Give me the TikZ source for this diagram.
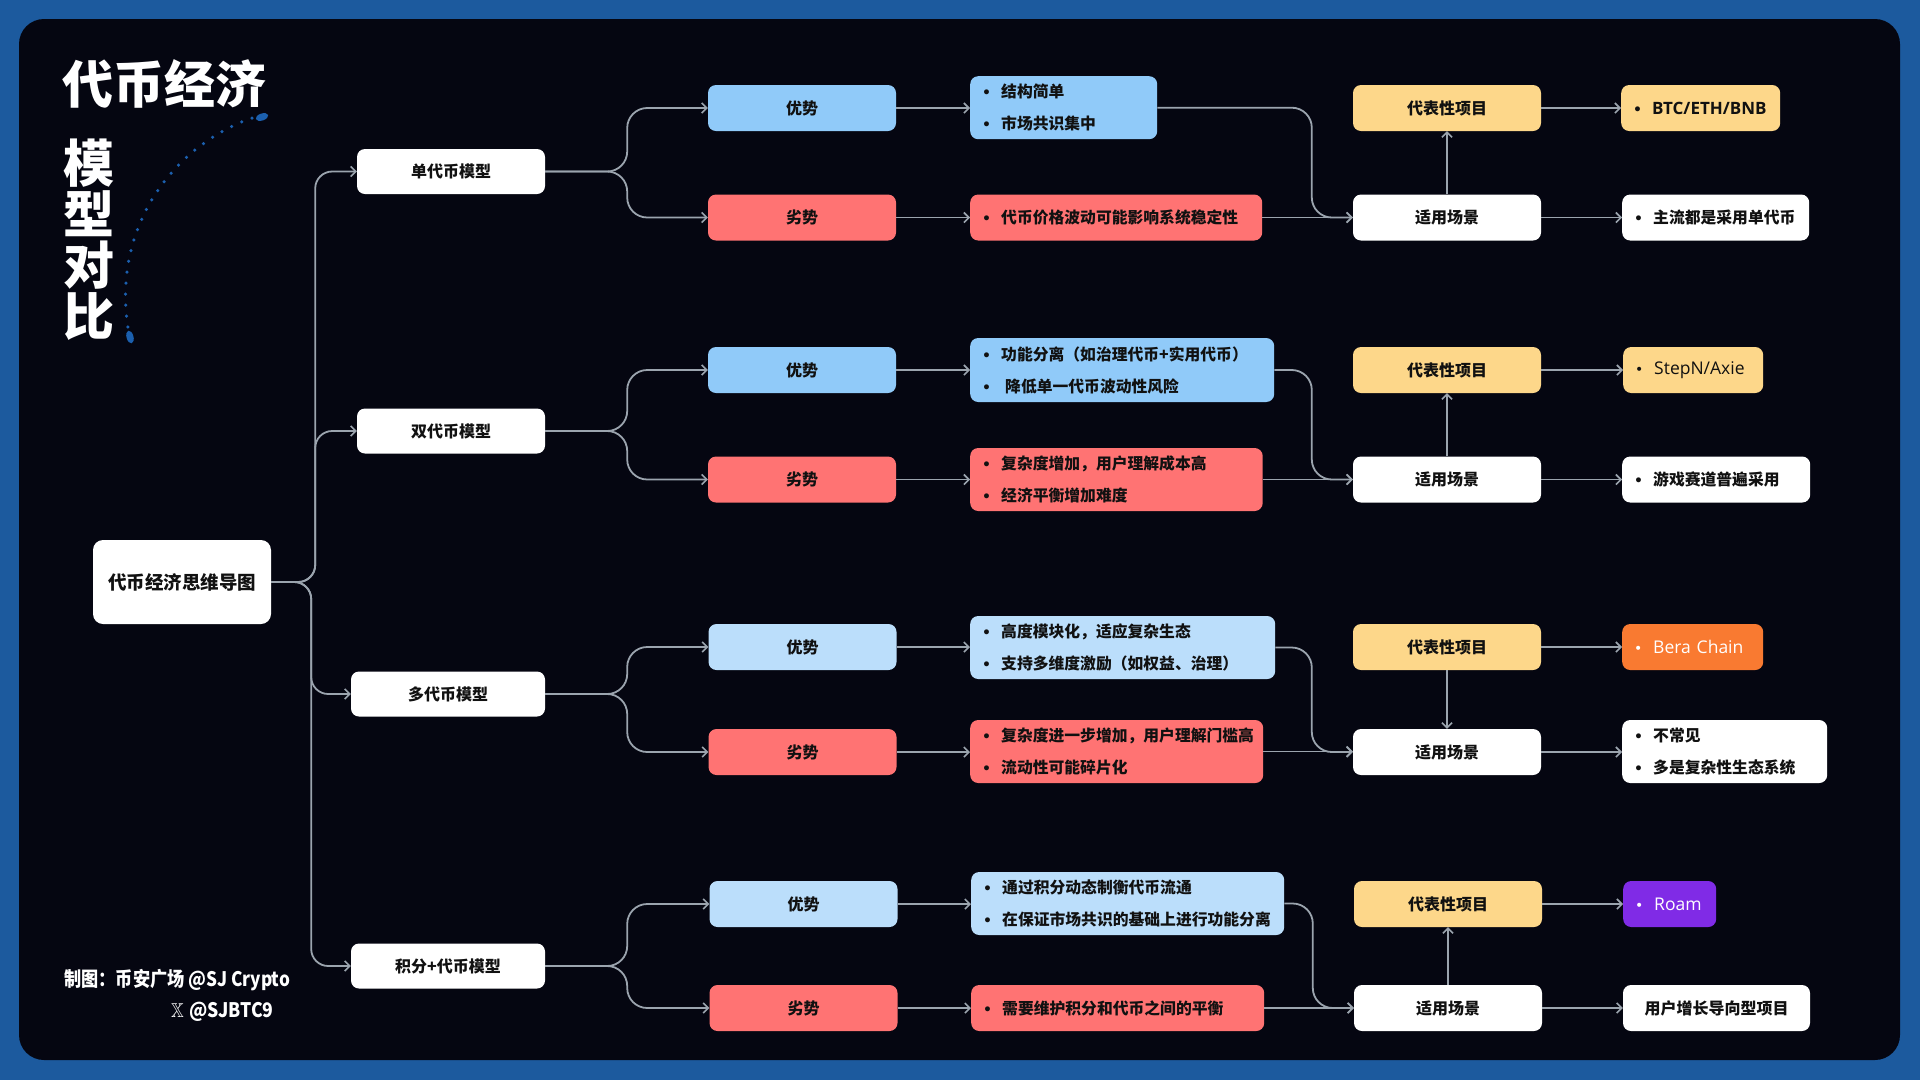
\documentclass[tikz,border=0pt]{standalone}
\usepackage{fontspec}
\usepackage{amssymb}
\setmainfont{Noto Sans CJK SC}
\newfontfamily\dvs{DejaVu Sans}
\newfontfamily\lat{Open Sans}
\usetikzlibrary{arrows.meta,calc}
\definecolor{outerblue}{HTML}{1C5A9E}
\definecolor{panel}{HTML}{050611}
\definecolor{bluea}{HTML}{90CAF9}
\definecolor{blueb}{HTML}{BBDEFB}
\definecolor{redbox}{HTML}{FF7373}
\definecolor{yel}{HTML}{FDD78A}
\definecolor{orng}{HTML}{F97A31}
\definecolor{purp}{HTML}{802BE6}
\definecolor{lnk}{HTML}{9BA4AE}
\definecolor{dotblue}{HTML}{1B5FAE}
\definecolor{ink}{HTML}{111111}
\newcommand{\bt}{\makebox[18pt][l]{\hspace{-1pt}{\dvs\fontsize{14}{14}\selectfont •}}}
\tikzset{
  bx/.style={rounded corners=8pt, inner sep=0pt, minimum height=46pt, font=\bfseries\fontsize{16}{20}\selectfont, text=ink},
  wbox/.style={bx, fill=white},
  det/.style={bx, anchor=west, inner xsep=13pt, inner ysep=0pt, align=left, font=\bfseries\fontsize{15.8}{32}\selectfont},
  latfont/.style={font=\lat\fontsize{17.5}{20}\selectfont},
  conn/.style={draw=lnk, line width=1.8pt, rounded corners=20pt, -{Straight Barb[length=5pt,width=10pt,line width=1.6pt]}},
  rootconn/.style={conn, rounded corners=17pt},
}
\begin{document}
\begin{tikzpicture}[x=1pt,y=-1pt]
\useasboundingbox (0,0) rectangle (1920,1080);
\fill[outerblue] (0,0) rectangle (1920,1080);
\fill[panel, rounded corners=25pt] (19,19) rectangle (1900,1060);

% title
\node[font=\bfseries\fontsize{51}{51}\selectfont, text=white, inner sep=0pt] (t1) at (164.5,84) {代币经济};
\node[font=\bfseries\fontsize{51}{51}\selectfont, text=white, inner sep=0pt, align=center] (t2) at (88.5,240) {模\\型\\对\\比};
\draw[dotblue, line width=3.5pt, line cap=round, dash pattern=on 0pt off 11pt] (252,118) .. controls (175,145) and (112,225) .. (128,328);
\fill[dotblue, rotate around={18:(262,117)}] (262,117) ellipse [x radius=6.5, y radius=3.5];
\fill[dotblue, rotate around={-75:(130,337)}] (130,337) ellipse [x radius=6.5, y radius=3.5];

% footer
\node[anchor=west, text=white, font=\bfseries\fontsize{20}{24}\selectfont, inner sep=0pt] (f1) at (64,980) {\scalebox{0.86}[1]{制图：币安广场 @SJ Crypto}};
\node[anchor=west, text=white, font=\bfseries\fontsize{20}{24}\selectfont, inner sep=0pt] (f2) at (171,1012) {\scalebox{0.88}[1]{$\mathbb{X}$\hspace{6pt}@SJBTC9}};

% root
\node[wbox, minimum width=178pt, minimum height=84pt, rounded corners=10pt, font=\bfseries\fontsize{18.5}{22}\selectfont] (root) at (182,582) {代币经济思维导图};

% level 1
\node[wbox, minimum width=188pt, minimum height=45pt] (m1) at (451,171.5) {单代币模型};
\node[wbox, minimum width=188pt, minimum height=45pt] (m2) at (451,431) {双代币模型};
\node[wbox, minimum width=194pt, minimum height=45pt] (m3) at (448,694) {多代币模型};
\node[wbox, minimum width=194pt, minimum height=45pt] (m4) at (448,966) {积分+代币模型};

% level 2
\node[bx, fill=bluea, minimum width=188pt] (g1) at (802,108) {优势};
\node[bx, fill=redbox, minimum width=188pt] (b1) at (802,217.5) {劣势};
\node[bx, fill=bluea, minimum width=188pt] (g2) at (802,370) {优势};
\node[bx, fill=redbox, minimum width=188pt] (b2) at (802,479.5) {劣势};
\node[bx, fill=blueb, minimum width=188pt] (g3) at (802.5,647) {优势};
\node[bx, fill=redbox, minimum width=188pt] (b3) at (802.5,752) {劣势};
\node[bx, fill=blueb, minimum width=188pt] (g4) at (803.5,904) {优势};
\node[bx, fill=redbox, minimum width=188pt] (b4) at (803.5,1008) {劣势};

% details
\node[det, fill=bluea, text width=161pt, minimum height=63pt] (d1a) at (970,107.7) {\bt 结构简单\\\bt 市场共识集中};
\node[det, fill=redbox, text width=266pt, minimum height=46pt] (d1b) at (970,217.5) {\bt 代币价格波动可能影响系统稳定性};
\node[det, fill=bluea, text width=278pt, minimum height=64pt] (d2a) at (970,370) {\bt 功能分离（如治理代币+实用代币）\\\bt\hspace{4pt}降低单一代币波动性风险};
\node[det, fill=redbox, text width=266.5pt, minimum height=63pt] (d2b) at (970,479.5) {\bt 复杂度增加，用户理解成本高\\\bt 经济平衡增加难度};
\node[det, fill=blueb, text width=279pt, minimum height=63pt] (d3a) at (970,647.5) {\bt 高度模块化，适应复杂生态\\\bt 支持多维度激励（如权益、治理）};
\node[det, fill=redbox, text width=267pt, minimum height=63pt] (d3b) at (970,751.5) {\bt 复杂度进一步增加，用户理解门槛高\\\bt 流动性可能碎片化};
\node[det, fill=blueb, text width=287pt, minimum height=63pt] (d4a) at (971,903.5) {\bt 通过积分动态制衡代币流通\\\bt 在保证市场共识的基础上进行功能分离};
\node[det, fill=redbox, text width=267pt, minimum height=46pt] (d4b) at (971,1008) {\bt 需要维护积分和代币之间的平衡};

% level 4
\node[bx, fill=yel, minimum width=188pt] (r1) at (1447,108) {代表性项目};
\node[wbox, minimum width=188pt] (x1) at (1447,217.5) {适用场景};
\node[bx, fill=yel, minimum width=188pt] (r2) at (1447,370) {代表性项目};
\node[wbox, minimum width=188pt] (x2) at (1447,479.5) {适用场景};
\node[bx, fill=yel, minimum width=188pt] (r3) at (1447,647) {代表性项目};
\node[wbox, minimum width=188pt] (x3) at (1447,752) {适用场景};
\node[bx, fill=yel, minimum width=188pt] (r4) at (1448,904) {代表性项目};
\node[wbox, minimum width=188pt] (x4) at (1448,1008) {适用场景};

% level 5
\node[det, fill=yel, text width=133pt, minimum height=46pt, font=\lat\bfseries\fontsize{17}{20}\selectfont] (p1) at (1621,108) {\bt BTC/ETH/BNB};
\node[det, fill=white, text width=161pt, minimum height=46pt] (q1) at (1622,217.5) {\bt 主流都是采用单代币};
\node[det, fill=yel, text width=114pt, minimum height=46pt, latfont] (p2) at (1623,370) {\bt StepN/Axie};
\node[det, fill=white, text width=162pt, minimum height=46pt] (q2) at (1622,479.5) {\bt 游戏赛道普遍采用};
\node[det, fill=orng, text=white, text width=115pt, minimum height=46pt, latfont] (p3) at (1622,647) {\bt Bera Chain};
\node[det, fill=white, text width=179pt, minimum height=63pt] (q3) at (1622,751.5) {\bt 不常见\\\bt 多是复杂性生态系统};
\node[det, fill=purp, text=white, text width=67pt, minimum height=46pt, latfont] (p4) at (1623,904) {\bt Roam};
\node[wbox, minimum width=187pt] (q4) at (1716.5,1008) {用户增长导向型项目};

% connectors root -> level 1
\draw[rootconn] (root.east) -- ++(44,0) |- (m1.west);
\draw[rootconn] (root.east) -- ++(44,0) |- (m2.west);
\draw[rootconn] (root.east) -- ++(40,0) |- (m3.west);
\draw[rootconn] (root.east) -- ++(40,0) |- (m4.west);

% level 1 -> level 2
\foreach \m/\g/\b in {m1/g1/b1, m2/g2/b2, m3/g3/b3, m4/g4/b4}{
  \draw[conn] (\m.east) -- ++(82,0) |- (\g.west);
  \draw[conn] (\m.east) -- ++(82,0) |- (\b.west);
}

% level 2 -> details -> level 4 -> level 5
\foreach \g/\b/\da/\db/\r/\x/\p/\q in {g1/b1/d1a/d1b/r1/x1/p1/q1, g2/b2/d2a/d2b/r2/x2/p2/q2, g3/b3/d3a/d3b/r3/x3/p3/q3, g4/b4/d4a/d4b/r4/x4/p4/q4}{
  \draw[conn] (\g.east) -- (\g.east -| \da.west);
  \draw[conn] (\b.east) -- (\b.east -| \db.west);
  \draw[conn] (\da.east) -| ($(\x.west)+(-41,0)$) -- (\x.west);
  \draw[conn] (\db.east) -- (\db.east -| \x.west);
  \draw[conn] (\r.east) -- (\r.east -| \p.west);
  \draw[conn] (\x.east) -- (\x.east -| \q.west);
}
\draw[conn] (x1.north) -- (r1.south);
\draw[conn] (x2.north) -- (r2.south);
\draw[conn] (r3.south) -- (x3.north);
\draw[conn] (x4.north) -- (r4.south);
\end{tikzpicture}
\end{document}
